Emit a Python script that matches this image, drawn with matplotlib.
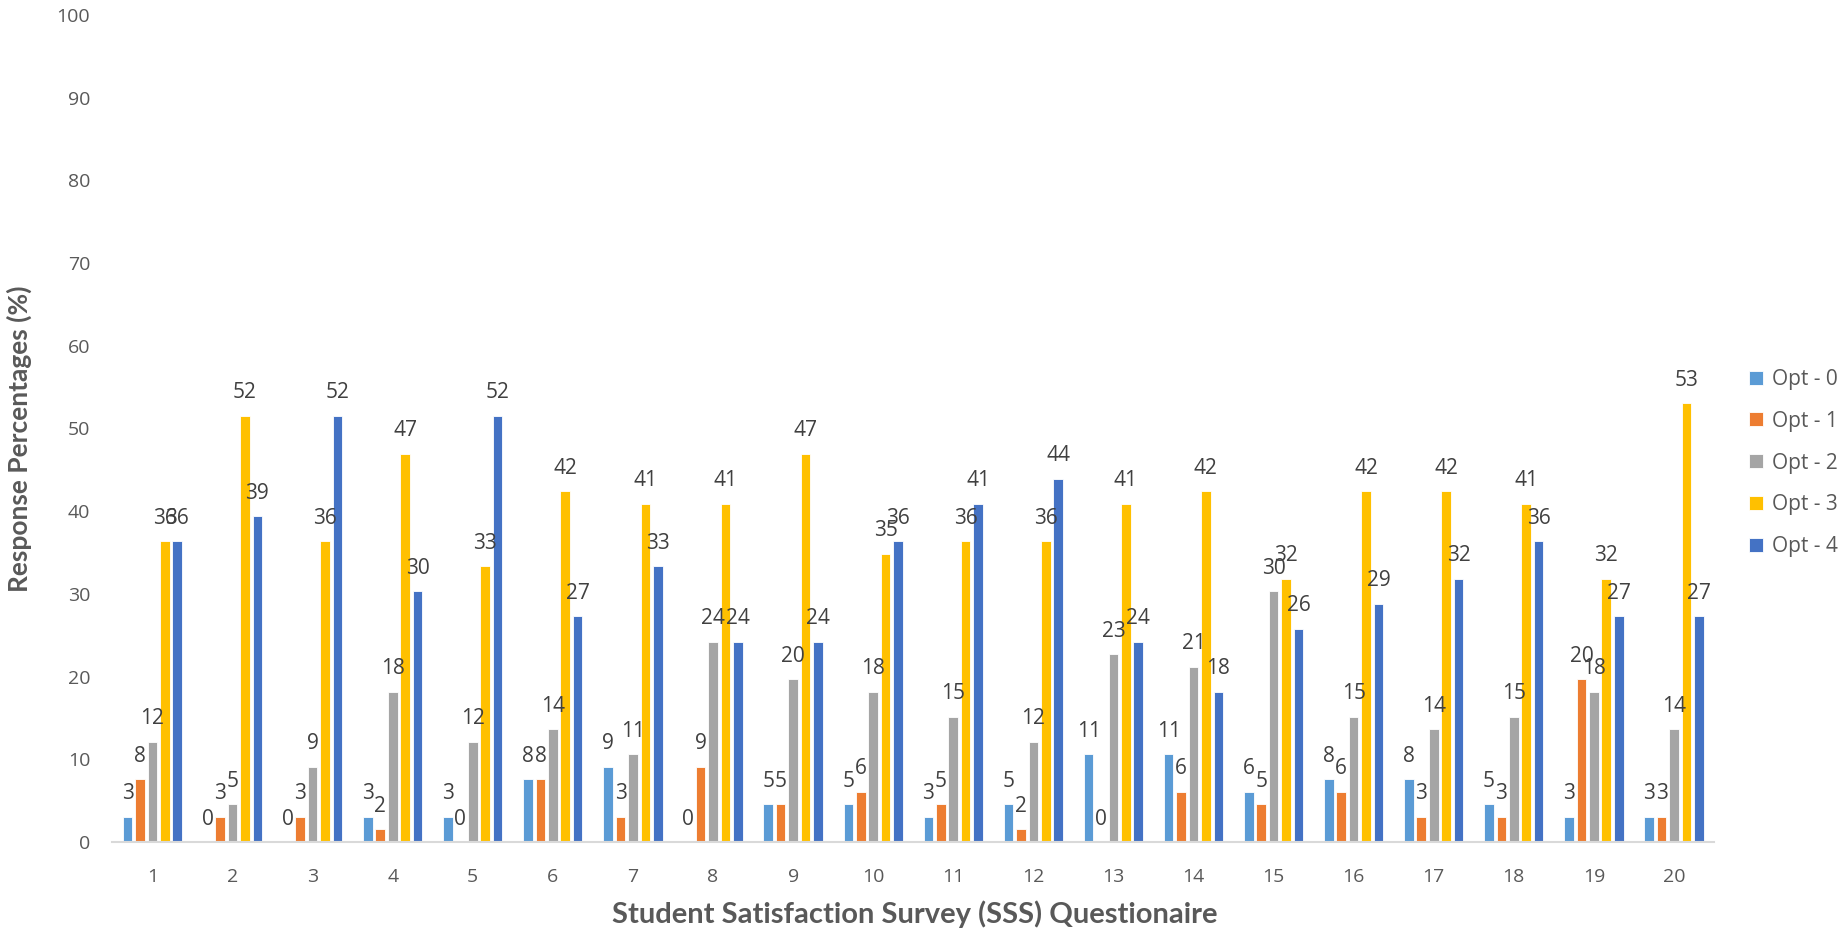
import numpy as np
import matplotlib.pyplot as plt

# Percentage of respondents choosing each option, per survey question
questions = [str(i) for i in range(1, 21)]
opt0 = [3.03, 0.0, 0.0, 3.03, 3.03, 7.58, 9.09, 0.0, 4.55, 4.55,
        3.03, 4.55, 10.61, 10.61, 6.06, 7.58, 7.58, 4.55, 3.03, 3.03]
opt1 = [7.58, 3.03, 3.03, 1.52, 0.0, 7.58, 3.03, 9.09, 4.55, 6.06,
        4.55, 1.52, 0.0, 6.06, 4.55, 6.06, 3.03, 3.03, 19.70, 3.03]
opt2 = [12.12, 4.55, 9.09, 18.18, 12.12, 13.64, 10.61, 24.24, 19.70, 18.18,
        15.15, 12.12, 22.73, 21.21, 30.30, 15.15, 13.64, 15.15, 18.18, 13.64]
opt3 = [36.36, 51.52, 36.36, 46.97, 33.33, 42.42, 40.91, 40.91, 46.97, 34.85,
        36.36, 36.36, 40.91, 42.42, 31.82, 42.42, 42.42, 40.91, 31.82, 53.03]
opt4 = [36.36, 39.39, 51.52, 30.30, 51.52, 27.27, 33.33, 24.24, 24.24, 36.36,
        40.91, 43.94, 24.24, 18.18, 25.76, 28.79, 31.82, 36.36, 27.27, 27.27]

series = [opt0, opt1, opt2, opt3, opt4]
names = ["Opt - 0", "Opt - 1", "Opt - 2", "Opt - 3", "Opt - 4"]
colors = ["#5B9BD5", "#ED7D31", "#A5A5A5", "#FFC000", "#4472C4"]

title_font = ["Lato", "DejaVu Sans"]
plain = ["Open Sans", "DejaVu Sans"]

fig = plt.figure(figsize=(18.43, 9.33), dpi=100)
ax = fig.add_axes([0.061, 0.0975, 0.869, 0.8865])

x = np.arange(len(questions))
step = 0.155
width = 0.12
for i, (vals, name, col) in enumerate(zip(series, names, colors)):
    bars = ax.bar(x + (i - 2) * step, vals, width, color=col, label=name,
                  edgecolor="white", linewidth=0.6)
    labels = ax.bar_label(bars, fmt="{:.0f}", padding=9, fontsize=15,
                          color="#404040")
    for t in labels:
        t.set_family(plain)

ax.set_xlim(-0.5, len(questions) - 0.5)
ax.set_ylim(0, 100)
ax.set_yticks(range(0, 101, 10))
ax.set_xticks(x)
ax.set_xticklabels(questions)
for t in ax.get_xticklabels() + ax.get_yticklabels():
    t.set_family(plain)
    t.set_fontsize(14)
    t.set_color("#595959")
ax.tick_params(axis="both", length=0)
ax.tick_params(axis="x", pad=19)
ax.tick_params(axis="y", pad=16)

for s in ["top", "right", "left"]:
    ax.spines[s].set_visible(False)
ax.spines["bottom"].set_color("#D9D9D9")
ax.spines["bottom"].set_linewidth(1.5)

ax.set_xlabel("Student Satisfaction Survey (SSS) Questionaire", family=title_font,
              fontsize=21, fontweight="bold", color="#595959")
ax.set_ylabel("Response Percentages (%)", family=title_font, fontsize=19,
              fontweight="bold", color="#595959")
ax.xaxis.set_label_coords(0.501, -0.07)
ax.yaxis.set_label_coords(-0.05, 0.487)

leg = ax.legend(loc="upper left", bbox_to_anchor=(1.022, 0.572), frameon=False,
                prop={"family": plain, "size": 15}, handlelength=0.65,
                handleheight=0.65, labelspacing=1.0, handletextpad=0.45,
                borderaxespad=0, borderpad=0)
for t in leg.get_texts():
    t.set_color("#595959")

fig.savefig("out.png", dpi=100)
plt.close(fig)
